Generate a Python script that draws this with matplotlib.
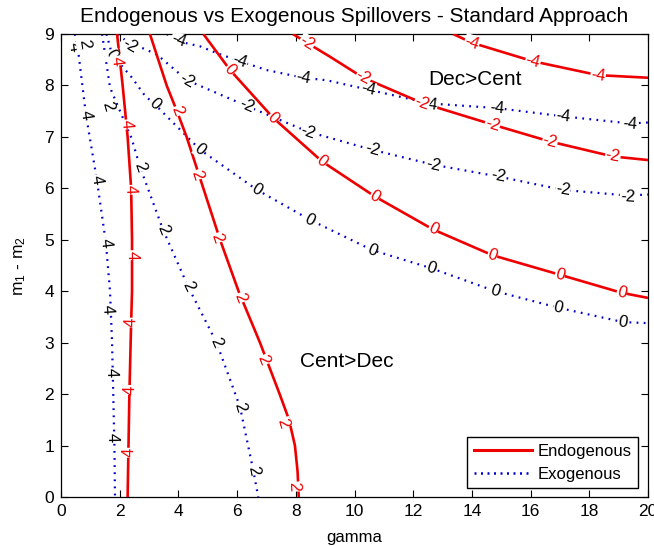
import numpy as np
import matplotlib
matplotlib.use("Agg")
import matplotlib.pyplot as plt
from matplotlib.lines import Line2D

plt.rcParams['font.family'] = ['Liberation Sans', 'DejaVu Sans']
plt.rcParams['mathtext.fontset'] = 'custom'
plt.rcParams['mathtext.rm'] = 'Liberation Sans'
plt.rcParams['mathtext.it'] = 'Liberation Sans'

# -------------------------
# Contours (gamma, m1 - m2)
# -------------------------
# Endogenous (red, solid)
endo_4_g = [1.91, 2.10, 2.27, 2.39, 2.42, 2.42, 2.39, 2.33, 2.30, 2.27]
endo_4_m = [9.00, 8.00, 7.00, 6.00, 5.00, 4.00, 3.40, 2.00, 1.00, 0.00]
endo_2_g = [3.03, 3.60, 3.95, 4.28, 4.85, 5.42, 6.05, 6.78, 7.45, 7.77, 7.97, 8.06, 8.10]
endo_2_m = [9.00, 8.00, 7.50, 7.00, 6.00, 5.00, 4.00, 3.00, 2.00, 1.50, 1.00, 0.50, 0.00]
endo_0_g = [4.85, 5.76, 7.23, 8.90, 10.70, 12.68, 14.70, 17.00, 19.10, 20.00]
endo_0_m = [9.00, 8.30, 7.37, 6.52, 5.84, 5.20, 4.70, 4.32, 3.97, 3.87]
endo_n2_g = [7.90, 8.38, 9.16, 10.30, 12.30, 14.70, 16.66, 18.80, 20.00]
endo_n2_m = [9.00, 8.83, 8.56, 8.15, 7.66, 7.24, 6.91, 6.62, 6.55]
endo_n4_g = [13.36, 14.00, 16.08, 18.30, 20.00]
endo_n4_m = [9.00, 8.83, 8.47, 8.20, 8.15]

# Exogenous (blue, dotted)
exo_4_g = [0.47, 0.60, 0.85, 1.22, 1.53, 1.67, 1.74, 1.78, 1.82, 1.84]
exo_4_m = [9.00, 8.60, 7.43, 6.17, 4.94, 4.00, 3.00, 2.00, 1.00, 0.00]
exo_2_g = [1.40, 1.67, 2.40, 2.69, 3.48, 4.33, 5.30, 6.10, 6.55, 6.72]
exo_2_m = [9.00, 7.96, 6.98, 6.42, 5.19, 4.09, 3.00, 1.75, 0.52, 0.00]
exo_0_g = [1.55, 1.74, 2.42, 2.86, 3.20, 4.74, 6.68, 8.48, 10.60, 12.60, 14.80, 16.94, 19.15, 20.00]
exo_0_m = [9.00, 8.60, 8.15, 7.80, 7.63, 6.75, 5.97, 5.39, 4.80, 4.45, 4.00, 3.68, 3.40, 3.38]
exo_n2_g = [1.95, 2.35, 2.80, 3.27, 4.30, 6.33, 8.42, 10.60, 12.68, 14.90, 17.10, 19.30, 20.00]
exo_n2_m = [9.00, 8.80, 8.72, 8.60, 8.10, 7.60, 7.10, 6.75, 6.46, 6.23, 5.97, 5.86, 5.88]
exo_n4_g = [3.60, 4.05, 4.74, 5.30, 6.10, 7.00, 8.25, 9.06, 10.46, 12.57, 14.85, 17.10, 19.40, 20.00]
exo_n4_m = [9.00, 8.85, 8.76, 8.63, 8.47, 8.30, 8.15, 8.10, 7.92, 7.65, 7.56, 7.40, 7.26, 7.28]

# Contour label positions (gamma, m)
endo_4_lab = [(1.88, 8.48), (2.22, 7.24), (2.36, 5.97), (2.42, 4.70), (2.40, 3.39), (2.37, 2.08), (2.31, 0.86)]
endo_2_lab = [(3.95, 7.50), (4.63, 6.26), (5.30, 5.03), (6.10, 3.87), (6.90, 2.66), (7.57, 1.44), (7.92, 0.20)]
endo_0_lab = [(5.76, 8.30), (7.23, 7.37), (8.90, 6.52), (10.70, 5.84), (12.68, 5.20), (14.70, 4.70), (17.00, 4.32), (19.10, 3.97)]
endo_n2_lab = [(8.38, 8.83), (10.30, 8.15), (12.30, 7.66), (14.70, 7.24), (16.66, 6.91), (18.80, 6.62)]
endo_n4_lab = [(14.00, 8.83), (16.08, 8.47), (18.30, 8.20)]
exo_4_lab = [(0.45, 8.75), (0.85, 7.43), (1.22, 6.17), (1.53, 4.94), (1.58, 3.64), (1.72, 2.41), (1.75, 1.15)]
exo_2_lab = [(0.78, 8.80), (1.60, 7.60), (2.69, 6.42), (3.48, 5.19), (4.33, 4.09), (5.30, 3.00), (6.10, 1.75), (6.55, 0.52)]
exo_0_lab = [(1.74, 8.60), (3.20, 7.63), (4.74, 6.75), (6.68, 5.97), (8.48, 5.39), (10.60, 4.80), (12.60, 4.45), (14.80, 4.00), (16.94, 3.68), (19.15, 3.40)]
exo_n2_lab = [(2.35, 8.77), (4.30, 8.10), (6.33, 7.60), (8.42, 7.10), (10.60, 6.75), (12.68, 6.46), (14.90, 6.23), (17.10, 5.97), (19.30, 5.84)]
exo_n4_lab = [(4.00, 8.87), (6.10, 8.47), (8.25, 8.15), (10.46, 7.92), (12.57, 7.63), (14.85, 7.56), (17.10, 7.40), (19.40, 7.24)]

endo_curves = [("4", endo_4_g, endo_4_m, endo_4_lab),
               ("2", endo_2_g, endo_2_m, endo_2_lab),
               ("0", endo_0_g, endo_0_m, endo_0_lab),
               ("-2", endo_n2_g, endo_n2_m, endo_n2_lab),
               ("-4", endo_n4_g, endo_n4_m, endo_n4_lab)]
exo_curves = [("4", exo_4_g, exo_4_m, exo_4_lab),
              ("2", exo_2_g, exo_2_m, exo_2_lab),
              ("0", exo_0_g, exo_0_m, exo_0_lab),
              ("-2", exo_n2_g, exo_n2_m, exo_n2_lab),
              ("-4", exo_n4_g, exo_n4_m, exo_n4_lab)]

red = '#ee0000'
blue = '#0000cc'

# -------------------------
# Figure
# -------------------------
fig = plt.figure(figsize=(6.54, 5.46), dpi=100)
ax = fig.add_axes([61/654, 1 - 497/546, 587/654, 463/546])
ax.set_xlim(0, 20)
ax.set_ylim(0, 9)


def seg_angle(g, m, x, y):
    # angle of the curve near a label, in screen space
    pts = ax.transData.transform(np.column_stack([g, m]))
    p = ax.transData.transform((x, y))
    d = np.hypot(pts[:, 0] - p[0], pts[:, 1] - p[1])
    i = int(np.argmin(d))
    j0, j1 = max(i - 1, 0), min(i + 1, len(g) - 1)
    dx, dy = pts[j1] - pts[j0]
    a = np.degrees(np.arctan2(dy, dx))
    if a > 90:
        a -= 180
    if a <= -90:
        a += 180
    return a


for lev, g, m, labs in exo_curves:
    ax.plot(g, m, color=blue, lw=1.6, ls=(0, (0.8, 2.4)), dash_capstyle='butt')
    for x, y in labs:
        ax.text(x, y, lev, color='black', fontsize=12, ha='center', va='center',
                rotation=seg_angle(g, m, x, y), rotation_mode='anchor',
                bbox=dict(fc='white', ec='none', pad=0.2), zorder=4)

for lev, g, m, labs in endo_curves:
    ax.plot(g, m, color=red, lw=1.9, solid_capstyle='butt', zorder=3)
    for x, y in labs:
        ax.text(x, y, lev, color=red, fontsize=12, ha='center', va='center',
                rotation=seg_angle(g, m, x, y), rotation_mode='anchor',
                bbox=dict(fc='white', ec='none', pad=0.2), zorder=5)

ax.text(14.1, 8.11, "Dec>Cent", fontsize=15, ha='center', va='center')
ax.text(9.75, 2.63, "Cent>Dec", fontsize=15, ha='center', va='center')

ax.set_xticks(np.arange(0, 21, 2))
ax.set_yticks(np.arange(0, 10, 1))
ax.tick_params(direction='in', top=True, right=True, length=5, width=0.8,
               labelsize=12.5, pad=5)
for s in ax.spines.values():
    s.set_linewidth(0.9)

ax.set_xlabel("gamma", fontsize=12, labelpad=8)
ax.set_ylabel("m$_1$ - m$_2$", fontsize=12.5, labelpad=12)
ax.set_title("Endogenous vs Exogenous Spillovers - Standard Approach",
             fontsize=15, pad=9)

handles = [Line2D([], [], color=red, lw=2.2),
           Line2D([], [], color=blue, lw=1.8, ls=(0, (0.8, 1.8)))]
ax.legend(handles, ["Endogenous", "Exogenous"], loc='lower right',
          bbox_to_anchor=(0.983, 0.019), borderaxespad=0, fancybox=False,
          edgecolor='black', framealpha=1, fontsize=12, handlelength=3.5,
          borderpad=0.4, labelspacing=0.45, handletextpad=0.3)

fig.savefig("out.png", dpi=100)
